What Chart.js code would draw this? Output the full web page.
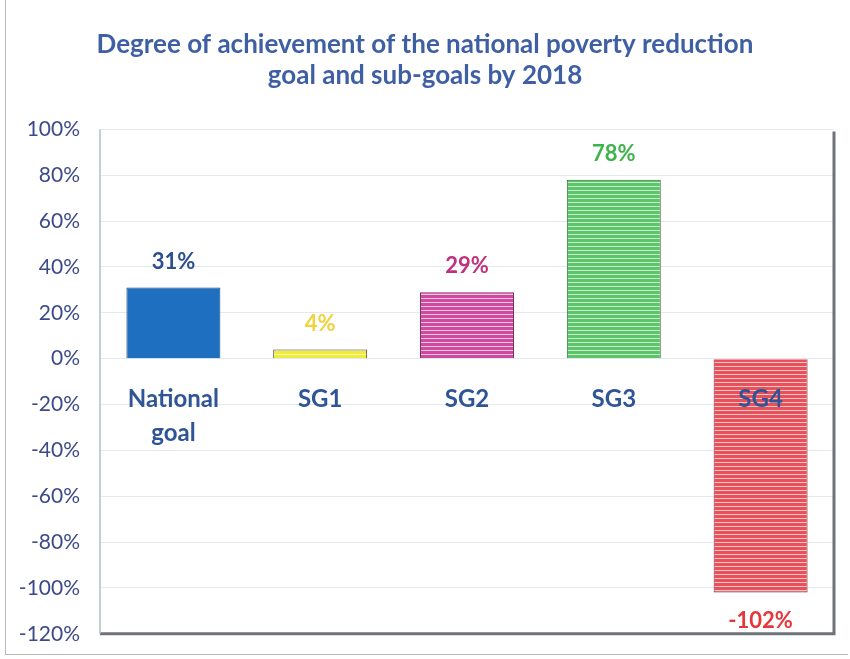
<!DOCTYPE html>
<html>
<head>
<meta charset="utf-8">
<script src="https://cdn.jsdelivr.net/npm/chart.js@4.4.0/dist/chart.umd.min.js"></script>
<style>
  html, body { margin: 0; padding: 0; background: #fff; }
  #wrap { position: relative; width: 850px; height: 659px; }
  #frame { position: absolute; left: 5px; top: 0; width: 843px; height: 655px;
           border-left: 1px solid #b8b8b8; border-bottom: 1px solid #b8b8b8; box-sizing: border-box; pointer-events: none; }
</style>
</head>
<body>
<div id="wrap">
  <canvas id="AchievementChart" width="850" height="659"></canvas>
  <div id="frame"></div>
</div>
<script>
// data
var categories = [['National', 'goal'], 'SG1', 'SG2', 'SG3', 'SG4'];
var achievement = [31, 4, 29, 78, -102];
var barColors = ['#1f6fc1', '#f1ec3c', '#cf4a9e', '#5cc46b', '#e8505a'];
var stripeColors = [null, '#fbf8a8', '#f0c6e0', '#c7ecca', '#f7c5c8'];
var edgeColors = ['#163f73', '#3a3a3a', '#7a2a5c', '#356b3c', '#7a2a2e'];
var labelColors = ['#2e4f8f', '#f0d23c', '#c0307f', '#3db34b', '#e8353b'];
var yTicks = [100, 80, 60, 40, 20, 0, -20, -40, -60, -80, -100, -120];

function stripes(base, light) {
  if (!light) return base;
  var c = document.createElement('canvas');
  c.width = 4; c.height = 4;
  var g = c.getContext('2d');
  g.fillStyle = base; g.fillRect(0, 0, 4, 4);
  g.fillStyle = light; g.fillRect(0, 2, 4, 1);
  return document.getElementById('AchievementChart').getContext('2d').createPattern(c, 'repeat');
}

var fills = barColors.map(function (c, i) { return stripes(c, stripeColors[i]); });

// value labels above / below each bar
var valueLabels = {
  id: 'valueLabels',
  afterDatasetsDraw: function (chart) {
    var ctx = chart.ctx;
    var meta = chart.getDatasetMeta(0);
    ctx.save();
    ctx.font = 'bold 22px Lato';
    ctx.textAlign = 'center';
    ctx.textBaseline = 'middle';
    meta.data.forEach(function (bar, i) {
      var v = achievement[i];
      var y = v >= 0 ? bar.y - 26 : bar.y + 28;
      ctx.fillStyle = labelColors[i];
      ctx.fillText(v + '%', bar.x, y);
    });
    ctx.restore();
  }
};

// right wall and floor of the plot area
var wallFrame = {
  id: 'wallFrame',
  beforeDatasetsDraw: function (chart) {
    var a = chart.chartArea, ctx = chart.ctx;
    ctx.save();
    ctx.strokeStyle = '#6f7378';
    ctx.lineWidth = 3;
    ctx.beginPath();
    ctx.moveTo(a.right, a.top + 2);
    ctx.lineTo(a.right, a.bottom);
    ctx.lineTo(a.left, a.bottom);
    ctx.stroke();
    ctx.strokeStyle = '#aebfcc';
    ctx.lineWidth = 1.5;
    ctx.beginPath();
    ctx.moveTo(a.left, a.top);
    ctx.lineTo(a.left, a.bottom);
    ctx.stroke();
    ctx.restore();
  }
};

var ctx = document.getElementById('AchievementChart');
var config = {
  type: 'bar',
  data: {
    labels: categories,
    datasets: [{
      data: achievement,
      backgroundColor: fills,
      borderColor: edgeColors,
      borderWidth: 1,
      barPercentage: 0.64,
      categoryPercentage: 1
    }]
  },
  options: {
    responsive: false,
    animation: false,
    layout: { padding: { left: 16, right: 16, top: 0, bottom: 20 } },
    plugins: {
      legend: { display: false },
      tooltip: { enabled: false },
      title: {
        display: true,
        text: ['Degree of achievement of the national poverty reduction', 'goal and sub-goals by 2018'],
        color: '#3f5fa5',
        font: { family: 'Lato', size: 26, weight: 'bold', lineHeight: 1.2 },
        padding: { top: 29, bottom: 38 }
      }
    },
    scales: {
      x: {
        position: { y: 0 },
        grid: { display: false },
        border: { display: false },
        ticks: {
          z: 1,
          color: '#2f5597',
          font: { family: 'Lato', size: 24, weight: 'bold', lineHeight: 1.4 },
          padding: 16,
          maxRotation: 0
        }
      },
      y: {
        min: -120,
        max: 100,
        afterBuildTicks: function (axis) {
          axis.ticks = yTicks.map(function (v) { return { value: v }; });
        },
        afterFit: function (axis) { axis.width = 84; },
        grid: { color: '#e2e9ef', lineWidth: 1, drawTicks: false },
        border: { display: false },
        ticks: {
          color: '#3d4a8a',
          font: { family: 'Lato', size: 21, lineHeight: 0.5 },
          padding: 20,
          callback: function (v) { return v + '%'; }
        }
      }
    }
  },
  plugins: [wallFrame, valueLabels]
};
var myChart = new Chart(ctx, config);
</script>
</body>
</html>
